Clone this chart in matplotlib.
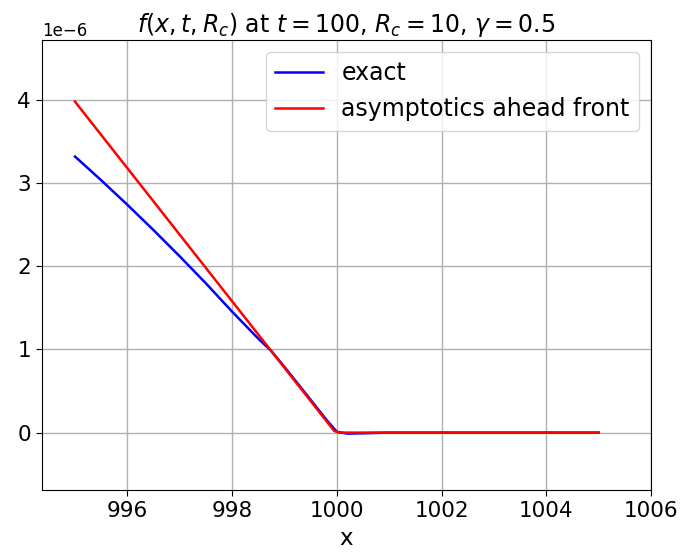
import matplotlib
matplotlib.use("Agg")
import matplotlib.pyplot as plt
import numpy as np

# exact solution sampled along x
x_exact = [995.0, 995.5, 996.0, 996.5, 997.0, 997.5, 998.0, 998.5, 998.75,
           999.0, 999.5, 999.8, 1000.0, 1000.2, 1000.5, 1001.0, 1003.0, 1005.0]
f_exact = [3.32, 3.035, 2.74, 2.435, 2.12, 1.795, 1.455, 1.13, 0.98,
           0.79, 0.395, 0.155, 0.01, -0.012, -0.008, 0.0, 0.0, 0.0]

# asymptotics ahead of the front
x_asym = [995.0, 999.95, 1000.05, 1005.0]
f_asym = [3.98, 0.02, 0.0, 0.0]

scale = 1e-6

plt.rcParams["font.size"] = 12
fig = plt.figure(figsize=(6.84, 5.57), dpi=100)
ax = fig.add_axes([0.0614, 0.1203, 0.8904, 0.8077])

ax.plot(x_exact, np.array(f_exact) * scale, color="blue", lw=1.8, label="exact")
ax.plot(x_asym, np.array(f_asym) * scale, color="red", lw=1.8,
        label="asymptotics ahead front")

ax.set_xlim(994.37, 1006)
ax.set_ylim(-0.69e-6, 4.72e-6)
ax.set_xticks([996, 998, 1000, 1002, 1004, 1006])
ax.tick_params(labelsize=15.5, length=4.5)
ax.grid(True, lw=1.0)

ax.set_xlabel("x", fontsize=16.5)
ax.set_title(r"$f(x,t,R_c)$ at $t=100$, $R_c=10$, $\gamma=0.5$", fontsize=17)
ax.legend(loc="upper right", fontsize=17, handlelength=2.0)

fig.savefig("out.png", dpi=100)
